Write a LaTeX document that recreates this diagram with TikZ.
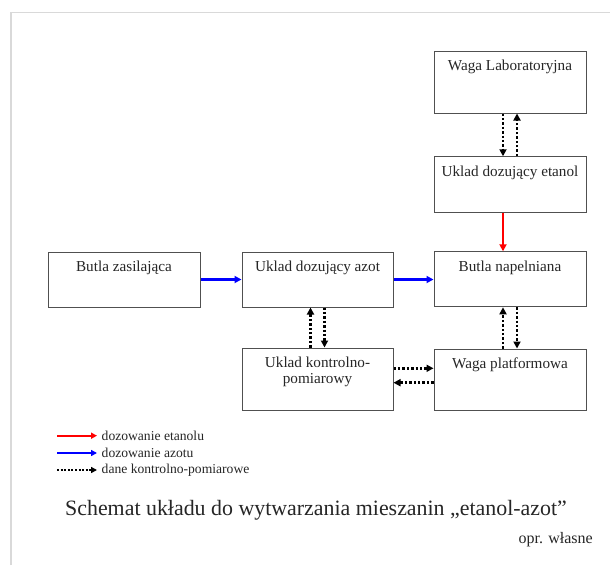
\documentclass[tikz,border=0pt]{standalone}
\usepackage{fontspec}
\setmainfont{Liberation Serif}
\usetikzlibrary{arrows.meta,calc}

\definecolor{framegray}{HTML}{D9D9D9}
\definecolor{boxline}{HTML}{505050}
\definecolor{flowred}{HTML}{FF0000}
\definecolor{flowblue}{HTML}{0000FF}

\tikzset{
  box/.style={draw=boxline, line width=1pt, minimum width=152pt, inner sep=0pt},
  boxtext/.style={anchor=base, inner sep=0pt, font=\fontsize{15.2}{15.8}\selectfont, text=black!85, align=center},
  tip/.style={-{Triangle[length=7pt,width=7pt]}},
  ethanol/.style={tip, draw=flowred, line width=2.4pt},
  nitrogen/.style={tip, draw=flowblue, line width=2.4pt},
  datalink/.style={tip, draw=black, line width=2.6pt, dash pattern=on 2.4pt off 2pt},
  legendtext/.style={anchor=west, inner sep=0pt, font=\fontsize{13.6}{15}\selectfont, text=black!85}
}

\begin{document}
\begin{tikzpicture}[x=1pt,y=-1pt]
  \useasboundingbox (0,0) rectangle (610,565);
  \fill[white] (0,0) rectangle (610,565);
  % page frame
  \draw[framegray, line width=1.5pt] (11,565) -- (11,12.5) -- (610,12.5);

  % boxes
  \node[box, minimum height=62pt] (wl) at (510,82) {};
  \node[box, minimum height=55.5pt] (ue) at (510,184.5) {};
  \node[box, minimum height=55pt] (bn) at (510,279.3) {};
  \node[box, minimum height=55pt] (bz) at (124,279.5) {};
  \node[box, minimum height=55pt, minimum width=151pt] (ua) at (317.5,279.5) {};
  \node[box, minimum height=62pt, minimum width=151pt] (uk) at (317.5,379) {};
  \node[box, minimum height=61pt] (wp) at (510,379.5) {};

  % box labels
  \node[boxtext] (wlt) at ($(wl.north)+(0,20)$) {Waga Laboratoryjna};
  \node[boxtext] (uet) at ($(ue.north)+(0,20)$) {Uklad dozujący etanol};
  \node[boxtext] (bnt) at ($(bn.north)+(0,20)$) {Butla napelniana};
  \node[boxtext] (bzt) at ($(bz.north)+(0,20)$) {Butla zasilająca};
  \node[boxtext] (uat) at ($(ua.north)+(0,20)$) {Uklad dozujący azot};
  \node[boxtext] (ukt1) at ($(uk.north)+(0,19.7)$) {Uklad kontrolno-};
  \node[boxtext] (ukt2) at ($(uk.north)+(0,35.5)$) {pomiarowy};
  \node[boxtext] (wpt) at ($(wp.north)+(0,20)$) {Waga platformowa};

  % data links
  \draw[datalink] ([xshift=-7pt]wl.south) -- ([xshift=-7pt]ue.north);
  \draw[datalink] ([xshift=7pt]ue.north) -- ([xshift=7pt]wl.south);
  \draw[datalink] ([xshift=-7pt]uk.north) -- ([xshift=-7pt]ua.south);
  \draw[datalink] ([xshift=7pt]ua.south) -- ([xshift=7pt]uk.north);
  \draw[datalink] ([xshift=-7pt]wp.north) -- ([xshift=-7pt]bn.south);
  \draw[datalink] ([xshift=7pt]bn.south) -- ([xshift=7pt]wp.north);
  \draw[datalink] ([yshift=10.7pt]uk.east) -- ([yshift=10.7pt]uk.east -| wp.west);
  \draw[datalink] ([yshift=-3.7pt]uk.east -| wp.west) -- ([yshift=-3.7pt]uk.east);

  % media flows
  \draw[ethanol] ([xshift=-7pt]ue.south) -- ([xshift=-7pt]bn.north);
  \draw[nitrogen] (bz.east) -- (ua.west);
  \draw[nitrogen] (ua.east) -- (ua.east -| bn.west);

  % legend
  \coordinate (l1a) at (57,435.7); \coordinate (l1b) at (97,435.7);
  \coordinate (l2a) at (57,453);   \coordinate (l2b) at (97,453);
  \coordinate (l3a) at (57,470);   \coordinate (l3b) at (97,470);
  \draw[ethanol, line width=2pt, {-{Triangle[length=6pt,width=6pt]}}] (l1a) -- (l1b);
  \draw[nitrogen, line width=2pt, {-{Triangle[length=6pt,width=6pt]}}] (l2a) -- (l2b);
  \draw[datalink, line width=2.2pt, dash pattern=on 2pt off 1.6pt, {-{Triangle[length=6pt,width=6pt]}}] (l3a) -- (l3b);
  \node[legendtext] (lt1) at ($(l1b)+(4.5,0)$) {dozowanie etanolu};
  \node[legendtext] (lt2) at ($(l2b)+(4.5,0)$) {dozowanie azotu};
  \node[legendtext] (lt3) at ($(l3b)+(4.5,0)$) {dane kontrolno-pomiarowe};

  % caption
  \node[anchor=base, inner sep=0pt, font=\fontsize{21.9}{25}\selectfont, text=black!85] (cap) at (316,515)
    {Schemat układu do wytwarzania mieszanin „etanol-azot”};
  \node[anchor=base east, inner sep=0pt, font=\fontsize{16}{18}\selectfont, text=black!85] (src) at (593,543)
    {opr. własne};
\end{tikzpicture}
\end{document}
